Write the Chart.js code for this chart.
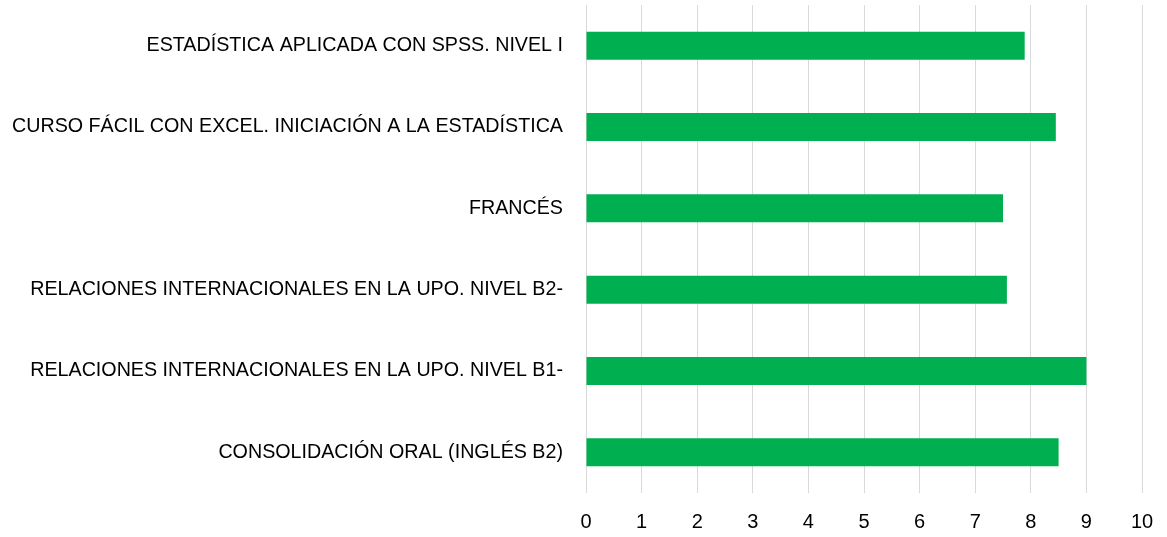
<!DOCTYPE html>
<html>
<head>
<meta charset="utf-8">
<script src="https://cdn.jsdelivr.net/npm/chart.js@4/dist/chart.umd.min.js"></script>
<style>
html,body{margin:0;padding:0;background:#fff;}
#wrap{position:relative;width:1167px;height:537px;}
</style>
</head>
<body>
<div id="wrap"><canvas id="c" width="1167" height="537"></canvas></div>
<script>
const categories = [
  "ESTADÍSTICA APLICADA CON SPSS. NIVEL I",
  "CURSO FÁCIL CON EXCEL. INICIACIÓN A LA ESTADÍSTICA",
  "FRANCÉS",
  "RELACIONES INTERNACIONALES EN LA UPO. NIVEL B2-",
  "RELACIONES INTERNACIONALES EN LA UPO. NIVEL B1-",
  "CONSOLIDACIÓN ORAL (INGLÉS B2)"
];
const values = [7.89, 8.45, 7.5, 7.57, 9.0, 8.5];
const xTicks = [0,1,2,3,4,5,6,7,8,9,10];

new Chart(document.getElementById('c'), {
  type: 'bar',
  data: {
    labels: categories,
    datasets: [{
      data: values,
      backgroundColor: '#00b050',
      borderWidth: 0,
      barPercentage: 0.69,
      categoryPercentage: 0.5
    }]
  },
  options: {
    indexAxis: 'y',
    responsive: false,
    animation: false,
    devicePixelRatio: 1,
    layout: { padding: { top: 5, right: 25, bottom: 0, left: 13 } },
    plugins: { legend: { display: false }, tooltip: { enabled: false } },
    scales: {
      x: {
        min: 0, max: 10,
        afterBuildTicks: (axis) => { axis.ticks = xTicks.map(v => ({ value: v })); },
        grid: { color: '#d9d9d9', lineWidth: 1, drawTicks: true, tickLength: 14, tickColor: 'rgba(0,0,0,0)' },
        border: { display: false },
        ticks: { color: '#000', padding: 3, font: { family: 'Liberation Sans, Arial, sans-serif', size: 20 } }
      },
      y: {
        afterFit: (s) => { s.width = 573; },
        grid: { display: true, drawOnChartArea: false, drawTicks: true, tickLength: 23, tickColor: 'rgba(0,0,0,0)' },
        border: { display: false },
        ticks: { color: '#000', padding: 0, font: { family: 'Liberation Sans, Arial, sans-serif', size: 19.7, lineHeight: 0.5 } }
      }
    }
  }
});
</script>
</body>
</html>
